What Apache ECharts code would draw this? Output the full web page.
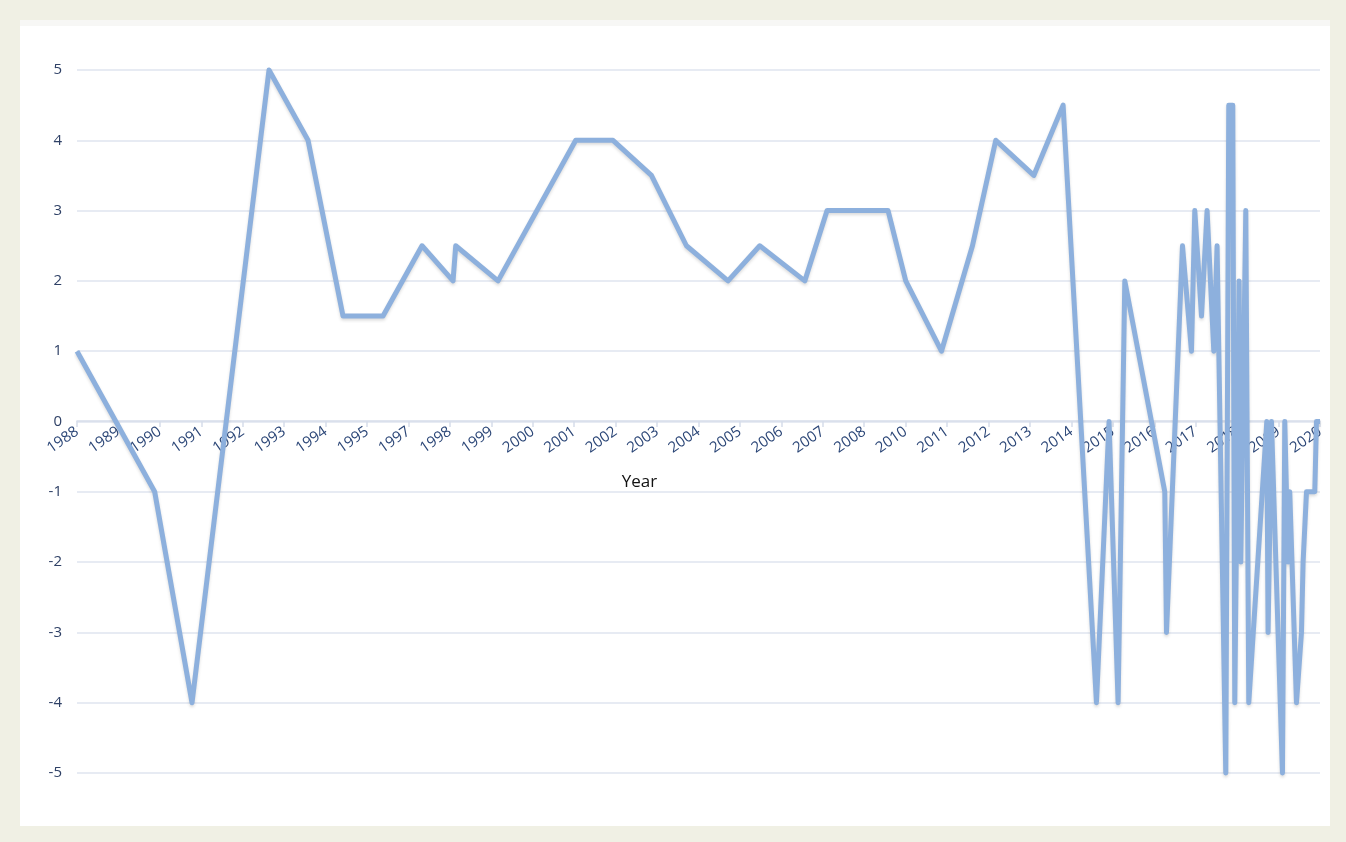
<!DOCTYPE html>
<html>
<head>
<meta charset="utf-8">
<script src="https://cdn.jsdelivr.net/npm/echarts@6/dist/echarts.min.js"></script>
<style>
html,body{margin:0;padding:0;background:#f0f0e4;}
#chart{width:1346px;height:842px;}
</style>
</head>
<body>
<div id="chart"></div>
<script>
// Tick labels of the category-like x axis (one per tick, 1996 and 2009 are not shown in the source)
const tickLabels = ['1988','1989','1990','1991','1992','1993','1994','1995','1997','1998','1999','2000','2001','2002','2003','2004','2005','2006','2007','2008','2010','2011','2012','2013','2014','2015','2016','2017','2018','2019','2020'];

// Position of each vertex along the x axis, in tick units (0 = first tick "1988")
const xPos = [0, 1.875, 2.776, 4.634, 5.576, 6.42, 7.386, 8.327, 9.076, 9.141, 10.162, 12.037, 12.937, 13.864, 14.709, 15.713, 16.478, 17.565, 18.103, 19.575, 20.002, 20.864, 21.612, 22.175, 23.092, 23.8, 24.605, 24.909, 25.127, 25.289, 26.254, 26.295, 26.681, 26.898, 26.978, 27.14, 27.275, 27.437, 27.516, 27.726, 27.798, 27.895, 27.943, 28.047, 28.088, 28.209, 28.281, 28.716, 28.747, 28.829, 29.094, 29.15, 29.23, 29.27, 29.432, 29.553, 29.592, 29.674, 29.874, 29.915, 30];

// Values of each vertex
const values = [1, -1, -4, 5, 4, 1.5, 1.5, 2.5, 2, 2.5, 2, 4, 4, 3.5, 2.5, 2, 2.5, 2, 3, 3, 2, 1, 2.5, 4, 3.5, 4.5, -4, 0, -4, 2, -1, -3, 2.5, 1, 3, 1.5, 3, 1, 2.5, -5, 4.5, 4.5, -4, 2, -2, 3, -4, 0, -3, 0, -5, 0, -2, -1, -4, -3, -2, -1, -1, 0, 0];

const yTicks = [-5, 5, 1]; // min, max, step

const seriesData = xPos.map((x, i) => [x, values[i]]);

const chart = echarts.init(document.getElementById('chart'), null, {renderer: 'canvas'});
chart.setOption({
  backgroundColor: '#f0f0e4',
  animation: false,
  graphic: [
    {type: 'rect', z: -10, shape: {x: 20, y: 20, width: 1310, height: 806}, style: {fill: '#ffffff'}},
    {type: 'rect', z: -9, shape: {x: 20, y: 20, width: 1310, height: 6}, style: {fill: '#f7f7f5'}}
  ],
  grid: {left: 77, right: 26, top: 70, bottom: 69, containLabel: false},
  xAxis: {
    type: 'value',
    position: 'bottom',
    offset: -352,
    min: 0,
    max: tickLabels.length - 1,
    interval: 1,
    name: 'Year',
    nameLocation: 'middle',
    nameGap: 53,
    nameTextStyle: {color: '#111111', fontSize: 17, fontFamily: 'Open Sans', padding: [0, 118, 0, 0]},
    axisLine: {show: true, onZero: false, lineStyle: {color: '#d6ddea', width: 1.5}},
    axisTick: {show: true, length: 6, lineStyle: {color: '#d6ddea', width: 1.5}},
    splitLine: {show: false},
    axisLabel: {
      rotate: 35,
      margin: 9,
      color: '#2b4677',
      fontSize: 15,
      fontFamily: 'Open Sans',
      formatter: v => (Number.isInteger(v) && tickLabels[v] !== undefined) ? tickLabels[v] : ''
    }
  },
  yAxis: {
    type: 'value',
    min: yTicks[0],
    max: yTicks[1],
    interval: yTicks[2],
    axisLine: {show: false},
    axisTick: {show: false},
    splitLine: {show: true, lineStyle: {color: '#dfe5ef', width: 1.5}},
    axisLabel: {color: '#2f4166', fontSize: 15, fontFamily: 'Open Sans', margin: 15}
  },
  series: [{
    type: 'line',
    data: seriesData,
    symbol: 'none',
    lineStyle: {
      color: '#8db0dd', width: 5, join: 'round',
      shadowColor: 'rgba(60,60,60,0.18)', shadowBlur: 3, shadowOffsetY: 2
    },
    clip: false
  }]
});
</script>
</body>
</html>
